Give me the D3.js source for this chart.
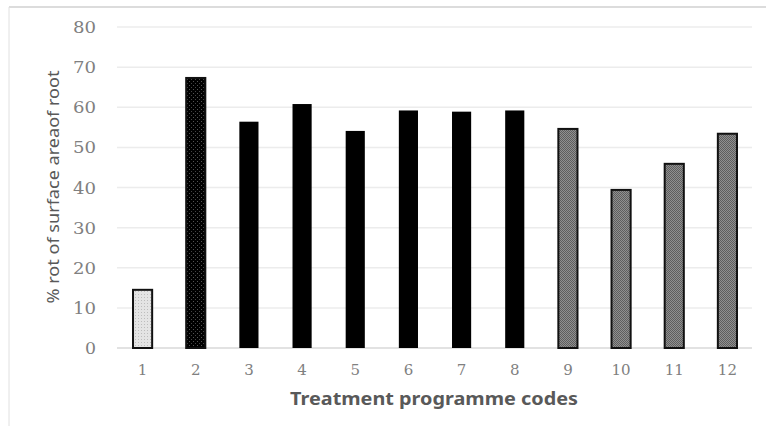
<!DOCTYPE html>
<html>
<head>
<meta charset="utf-8">
<script src="https://cdn.jsdelivr.net/npm/d3@7"></script>
<style>
body { margin: 0; background: #fff; }
.axis text { font-family: "Noto Sans", sans-serif; fill: #808080; }
</style>
</head>
<body>
<div id="chart"></div>
<script>
// values
var codes = ["1", "2", "3", "4", "5", "6", "7", "8", "9", "10", "11", "12"];
var rotPct = [14.5, 67.3, 56.4, 60.8, 54.1, 59.2, 58.9, 59.2, 54.6, 39.4, 45.9, 53.4];
var groups = ["light", "dotted", "solid", "solid", "solid", "solid", "solid", "solid", "grey", "grey", "grey", "grey"];
var yTicks = [0, 10, 20, 30, 40, 50, 60, 70, 80];

var w = 766;
var h = 434;
var svg = d3.select("#chart").append("svg").attr("width", w).attr("height", h);

// fill patterns for the bar groups
var defs = svg.append("defs");
var p1 = defs.append("pattern").attr("id", "pLight").attr("width", 3).attr("height", 3).attr("patternUnits", "userSpaceOnUse");
p1.append("rect").attr("width", 3).attr("height", 3).attr("fill", "#e4e4e4");
p1.append("rect").attr("width", 1).attr("height", 1).attr("fill", "#bdbdbd");
var p2 = defs.append("pattern").attr("id", "pDot").attr("width", 4).attr("height", 4).attr("patternUnits", "userSpaceOnUse");
p2.append("rect").attr("width", 4).attr("height", 4).attr("fill", "#000");
p2.append("rect").attr("x", 1).attr("y", 1).attr("width", 1).attr("height", 1).attr("fill", "#555");
p2.append("rect").attr("x", 3).attr("y", 3).attr("width", 1).attr("height", 1).attr("fill", "#444");
var p3 = defs.append("pattern").attr("id", "pGrey").attr("width", 2).attr("height", 2).attr("patternUnits", "userSpaceOnUse");
p3.append("rect").attr("width", 2).attr("height", 2).attr("fill", "#909090");
p3.append("rect").attr("width", 1).attr("height", 1).attr("fill", "#5e5e5e");
p3.append("rect").attr("x", 1).attr("y", 1).attr("width", 1).attr("height", 1).attr("fill", "#5e5e5e");

var fills = { light: "url(#pLight)", dotted: "url(#pDot)", solid: "#000", grey: "url(#pGrey)" };

// outer frame (only top and left edges are visible)
svg.append("line").attr("x1", 9).attr("x2", w).attr("y1", 7).attr("y2", 7).attr("stroke", "#d0d0d0").attr("stroke-width", 1.5);
svg.append("line").attr("x1", 9).attr("x2", 9).attr("y1", 7).attr("y2", 426).attr("stroke", "#e0e0e0").attr("stroke-width", 1);

var xScale = d3.scaleBand().domain(codes).range([116, 754]).paddingInner(0.64).paddingOuter(0.32);
var yScale = d3.scaleLinear().domain([0, 80]).range([348, 27]);

// gridlines
svg.append("g").selectAll("line").data(yTicks).enter().append("line")
    .attr("x1", 117).attr("x2", 752)
    .attr("y1", function(d) { return yScale(d); })
    .attr("y2", function(d) { return yScale(d); })
    .attr("stroke", function(d) { return d == 0 ? "#d9d9d9" : "#ececec"; })
    .attr("stroke-width", 1.5);

// bars
svg.append("g").selectAll("rect").data(rotPct).enter().append("rect")
    .attr("x", function(d, i) { return xScale(codes[i]); })
    .attr("y", function(d) { return yScale(d); })
    .attr("width", xScale.bandwidth())
    .attr("height", function(d) { return yScale(0) - yScale(d); })
    .attr("fill", function(d, i) { return fills[groups[i]]; })
    .attr("stroke", "#111")
    .attr("stroke-width", function(d, i) { return groups[i] == "solid" ? 0 : 2; });

// axes
var yAxis = d3.axisLeft(yScale).tickValues(yTicks).tickSize(0).tickPadding(0);
var gy = svg.append("g").attr("class", "axis").attr("transform", "translate(96,0)").call(yAxis);
gy.select(".domain").remove();
gy.selectAll("text").style("font-size", "16px").style("font-family", "'DejaVu Serif', serif").attr("dy", "0.35em")
    .attr("textLength", 23).attr("lengthAdjust", "spacingAndGlyphs");
gy.select(".tick text").attr("textLength", 11);

var xAxis = d3.axisBottom(xScale).tickSize(0).tickPadding(0);
var gx = svg.append("g").attr("class", "axis").attr("transform", "translate(0,364)").call(xAxis);
gx.select(".domain").remove();
gx.selectAll("text").style("font-size", "15px").style("font-family", "'DejaVu Serif', serif");

// axis titles
svg.append("text")
    .attr("x", 434).attr("y", 405)
    .attr("text-anchor", "middle")
    .attr("textLength", 288).attr("lengthAdjust", "spacingAndGlyphs")
    .style("font-family", "'Noto Sans', sans-serif").style("font-weight", "bold").style("font-size", "17px")
    .style("fill", "#595959")
    .text("Treatment programme codes");

svg.append("text")
    .attr("transform", "translate(59,187) rotate(-90)")
    .attr("text-anchor", "middle")
    .attr("textLength", 233).attr("lengthAdjust", "spacingAndGlyphs")
    .style("font-family", "'Noto Sans', sans-serif").style("font-size", "17px")
    .style("fill", "#595959")
    .text("% rot of surface areaof root");
</script>
</body>
</html>
